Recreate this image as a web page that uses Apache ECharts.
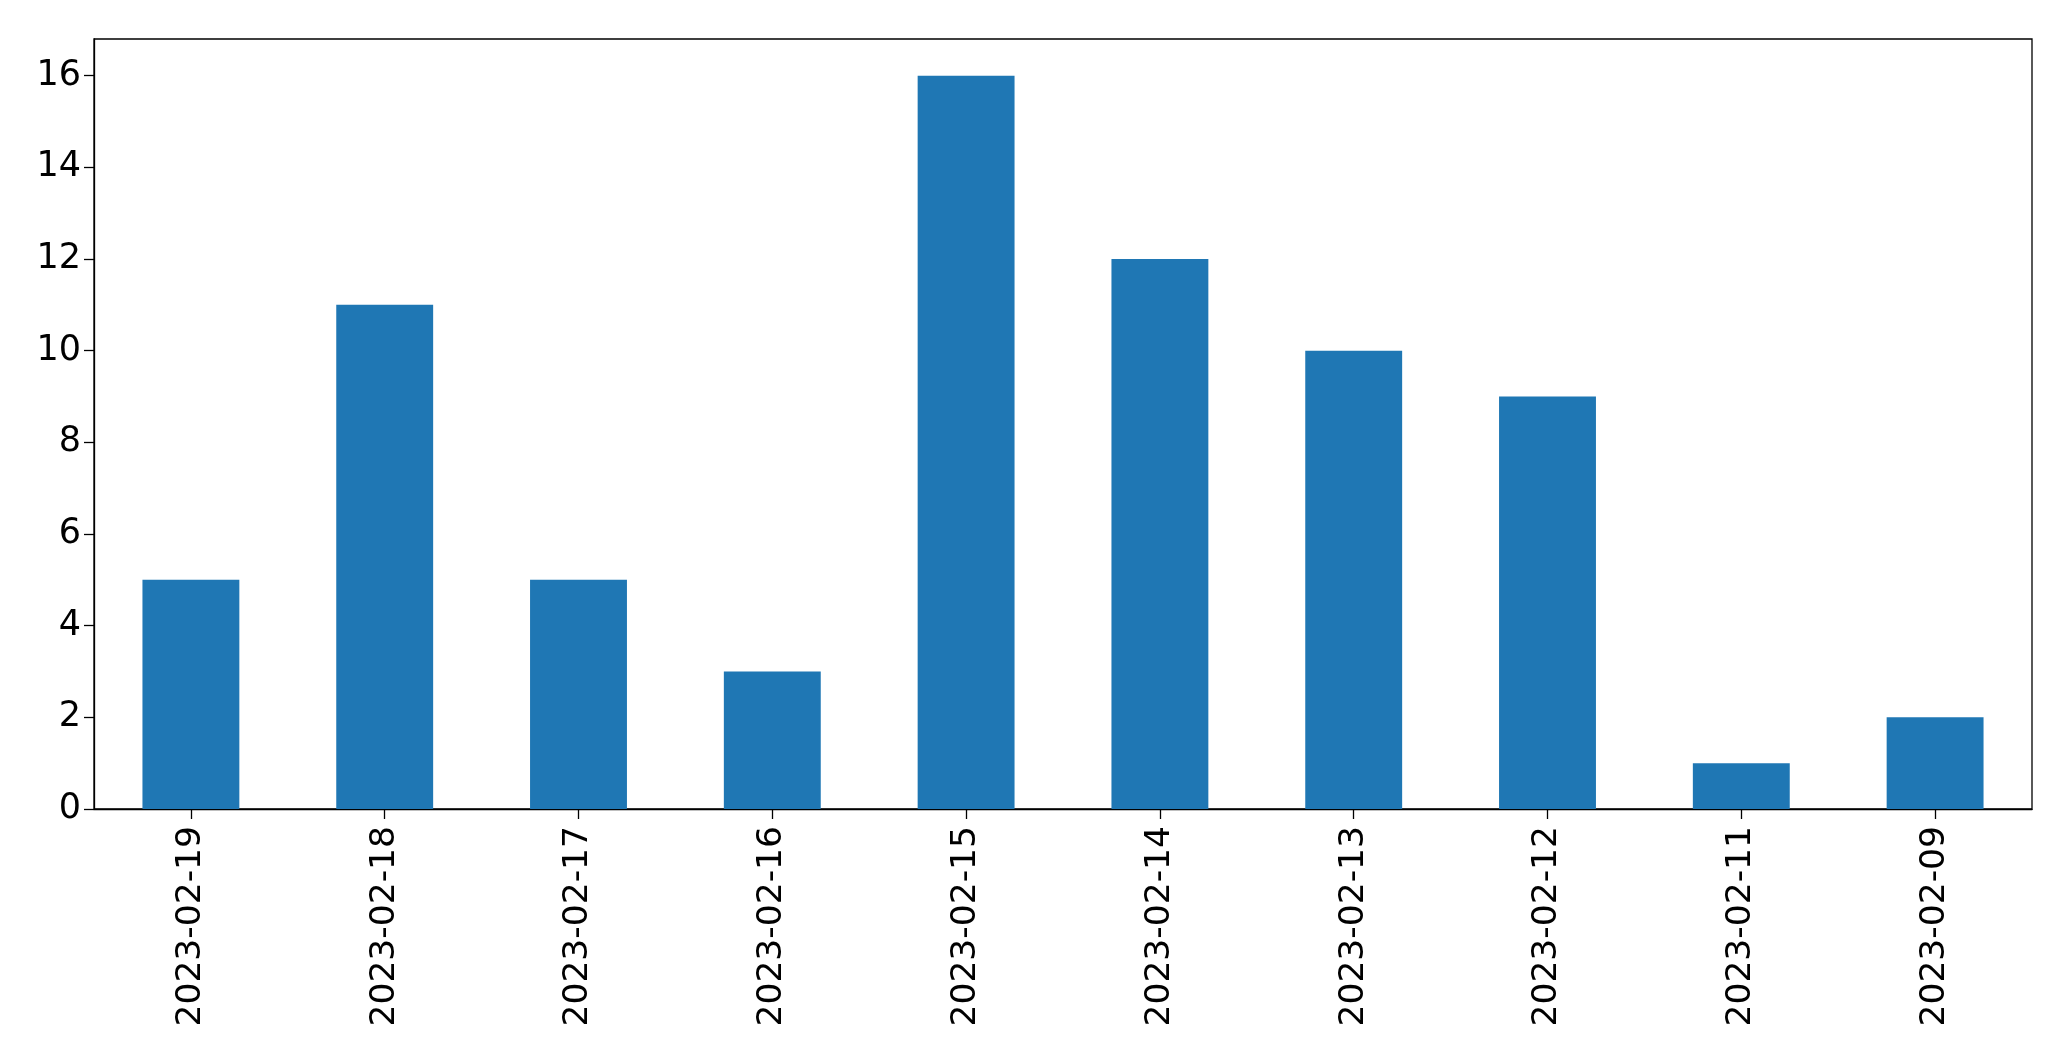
<!DOCTYPE html>
<html>
<head>
<meta charset="utf-8">
<script src="https://cdn.jsdelivr.net/npm/echarts@6/dist/echarts.min.js"></script>
<style>
html,body{margin:0;padding:0;background:#fff;}
#chart{width:2071px;height:1061px;}
</style>
</head>
<body>
<div id="chart"></div>
<script>
const categories = ['2023-02-19','2023-02-18','2023-02-17','2023-02-16','2023-02-15','2023-02-14','2023-02-13','2023-02-12','2023-02-11','2023-02-09'];
const values = [5, 11, 5, 3, 16, 12, 10, 9, 1, 2];
const yTicks = [0, 2, 4, 6, 8, 10, 12, 14, 16];

const chart = echarts.init(document.getElementById('chart'), null, {renderer: 'canvas'});
const font = 'DejaVu Sans';
chart.setOption({
  animation: false,
  backgroundColor: '#ffffff',
  grid: {left: 94, top: 39, width: 1938, height: 770, show: true, borderColor: '#000', borderWidth: 1.3, backgroundColor: 'transparent'},
  xAxis: {
    type: 'category',
    data: categories,
    boundaryGap: true,
    axisLine: {show: true, lineStyle: {color: '#000', width: 1.3}},
    axisTick: {show: true, alignWithLabel: true, length: 10, lineStyle: {color: '#000', width: 1.3}},
    axisLabel: {rotate: 90, margin: 17, color: '#000', fontFamily: font, fontSize: 34.5, interval: 0},
    splitLine: {show: false}
  },
  yAxis: {
    type: 'value',
    min: 0,
    max: 16.8,
    interval: 2,
    axisLine: {show: true, lineStyle: {color: '#000', width: 1.3}},
    axisTick: {show: true, length: 10, customValues: yTicks, lineStyle: {color: '#000', width: 1.3}},
    axisLabel: {margin: 13, color: '#000', fontFamily: font, fontSize: 35, customValues: yTicks},
    splitLine: {show: false}
  },
  series: [{
    type: 'bar',
    data: values,
    barWidth: '50%',
    itemStyle: {color: '#1f77b4'}
  }]
});
</script>
</body>
</html>
